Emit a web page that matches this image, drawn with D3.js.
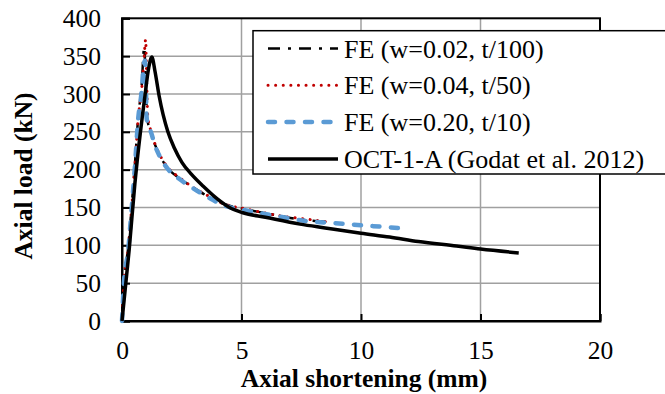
<!DOCTYPE html>
<html>
<head>
<meta charset="utf-8">
<script src="https://cdn.jsdelivr.net/npm/d3@7"></script>
<style>
  html, body { margin: 0; padding: 0; background: #fff; }
  svg { display: block; }
  text { font-family: "Liberation Serif", "Times New Roman", serif; fill: #000; }
</style>
</head>
<body>
<svg id="chart" width="665" height="394"></svg>
<script>
// ---- data ----
const xTicks = [0, 5, 10, 15, 20];
const yTicks = [0, 50, 100, 150, 200, 250, 300, 350, 400];

const seriesNames = ["FE (w=0.02, t/100)", "FE (w=0.04, t/50)", "FE (w=0.20, t/10)", "OCT-1-A (Godat et al. 2012)"];

const fe002X = [0, 0.08, 0.26, 0.4, 0.54, 0.68, 0.82, 0.93, 0.98, 1.05, 1.2, 1.38, 1.59, 1.94, 2.39, 3.0, 3.63, 4.24, 5.27, 6.6, 7.5, 8.5];
const fe002Y = [0, 52, 97, 150, 207, 270, 310, 362, 330, 268, 251, 233, 218, 201, 189, 176, 164, 155, 147, 139, 134, 131];

const fe004X = [0, 0.08, 0.26, 0.4, 0.54, 0.68, 0.82, 0.92, 0.99, 1.03, 1.08, 1.2, 1.38, 1.59, 1.94, 2.39, 3.0, 3.63, 4.24, 5.2, 6.6, 7.87, 8.8];
const fe004Y = [0, 50, 95, 148, 205, 268, 305, 345, 372, 320, 270, 252, 234, 219, 202, 190, 176, 165, 155, 148, 139, 134, 130];

const fe020X = [0, 0.08, 0.26, 0.4, 0.54, 0.68, 0.82, 0.9, 0.96, 1.0, 1.03, 1.12, 1.23, 1.38, 1.59, 1.94, 2.39, 3.0, 3.63, 4.24, 5.2, 6.6, 7.73, 8.6, 10.24, 11.7];
const fe020Y = [0, 50, 94, 147, 204, 268, 303, 335, 344, 310, 268, 258, 248, 232, 217, 200, 188, 175, 163, 153, 146, 138, 132, 130, 126, 122.5];

const expX = [0, 0.3, 0.54, 0.64, 0.95, 1.12, 1.25, 1.38, 1.55, 1.92, 2.2, 2.5, 2.9, 3.4, 4.0, 4.5, 5.06, 6.0, 7.45, 8.5, 10, 11.2, 12.4, 14, 15, 16.6];
const expY = [0, 94, 182, 213, 295, 335, 349, 330, 298, 250, 228, 210, 194, 178, 161, 150, 143, 137, 128, 123, 116, 111, 105, 99, 95, 90];

// ---- layout ----
const W = 665, H = 394;
const pLeft = 122, pRight = 600, pTop = 18.3, pBottom = 321;
const svg = d3.select("#chart");
svg.append("rect").attr("width", W).attr("height", H).attr("fill", "#fff");

const x = d3.scaleLinear().domain([0, 20]).range([pLeft, pRight]);
const y = d3.scaleLinear().domain([0, 400]).range([pBottom, pTop]);

// gridlines
const grid = svg.append("g");
grid.selectAll("line.h").data(yTicks.filter(d => d > 0 && d < 400)).enter().append("line")
  .attr("x1", pLeft).attr("x2", pRight).attr("y1", d => y(d)).attr("y2", d => y(d))
  .attr("stroke", "#a0a0a0").attr("stroke-width", 1.5);
grid.selectAll("line.v").data(xTicks.filter(d => d > 0 && d < 20)).enter().append("line")
  .attr("y1", pTop).attr("y2", pBottom).attr("x1", d => x(d)).attr("x2", d => x(d))
  .attr("stroke", "#a0a0a0").attr("stroke-width", 1.5);

// border
svg.append("rect").attr("x", pLeft).attr("y", pTop).attr("width", pRight - pLeft).attr("height", pBottom - pTop)
  .attr("fill", "none").attr("stroke", "#000").attr("stroke-width", 2);

// axes with inside ticks
const yAxis = svg.append("g").attr("transform", `translate(${pLeft},0)`)
  .call(d3.axisLeft(y).tickValues(yTicks).tickSize(-8).tickPadding(21).tickFormat(d3.format("d")));
const xAxis = svg.append("g").attr("transform", `translate(0,${pBottom})`)
  .call(d3.axisBottom(x).tickValues(xTicks).tickSize(-7).tickPadding(20).tickFormat(d3.format("d")));
[yAxis, xAxis].forEach(a => {
  a.select(".domain").attr("stroke", "#000").attr("stroke-width", 2);
  a.selectAll(".tick line").attr("stroke", "#000").attr("stroke-width", 2);
  a.selectAll(".tick text").attr("font-size", 25.5).attr("fill", "#000");
});

// axis titles
svg.append("text").attr("x", 364).attr("y", 387).attr("text-anchor", "middle")
  .attr("font-size", 25.5).attr("font-weight", "bold").text("Axial shortening (mm)");
svg.append("text").attr("transform", "translate(32,176) rotate(-90)").attr("text-anchor", "middle")
  .attr("font-size", 25.5).attr("font-weight", "bold").text("Axial load (kN)");

// series
const line = d3.line().x(d => x(d[0])).y(d => y(d[1])).curve(d3.curveMonotoneX);
const zip = (a, b) => a.map((v, i) => [v, b[i]]);

const styles = [
  { data: zip(fe002X, fe002Y), color: "#000", width: 2.5, dash: "12,8,3,8", cap: "butt" },
  { data: zip(fe004X, fe004Y), color: "#c00000", width: 3, dash: "0.1,7.5", cap: "round" },
  { data: zip(fe020X, fe020Y), color: "#5b9bd5", width: 4.5, dash: "7,11.5", cap: "round" },
  { data: zip(expX, expY), color: "#000", width: 3.5, dash: null, cap: "butt" }
];

const plotG = svg.append("g");
styles.forEach(s => {
  plotG.append("path").datum(s.data).attr("d", line)
    .attr("fill", "none").attr("stroke", s.color).attr("stroke-width", s.width)
    .attr("stroke-dasharray", s.dash).attr("stroke-linecap", s.cap).attr("stroke-linejoin", "round");
});

// legend
const lg = svg.append("g");
lg.append("rect").attr("x", 253).attr("y", 30.7).attr("width", 430).attr("height", 143.3)
  .attr("fill", "#fff").attr("stroke", "#000").attr("stroke-width", 1.5);
styles.forEach((s, i) => {
  const ry = 48.5 + i * 36.8;
  lg.append("line").attr("x1", 268).attr("x2", 338).attr("y1", ry).attr("y2", ry)
    .attr("stroke", s.color).attr("stroke-width", s.width)
    .attr("stroke-dasharray", s.dash).attr("stroke-linecap", s.cap);
  lg.append("text").attr("x", 344).attr("y", ry).attr("dy", "0.35em")
    .attr("font-size", 26).text(seriesNames[i]);
});
</script>
</body>
</html>
